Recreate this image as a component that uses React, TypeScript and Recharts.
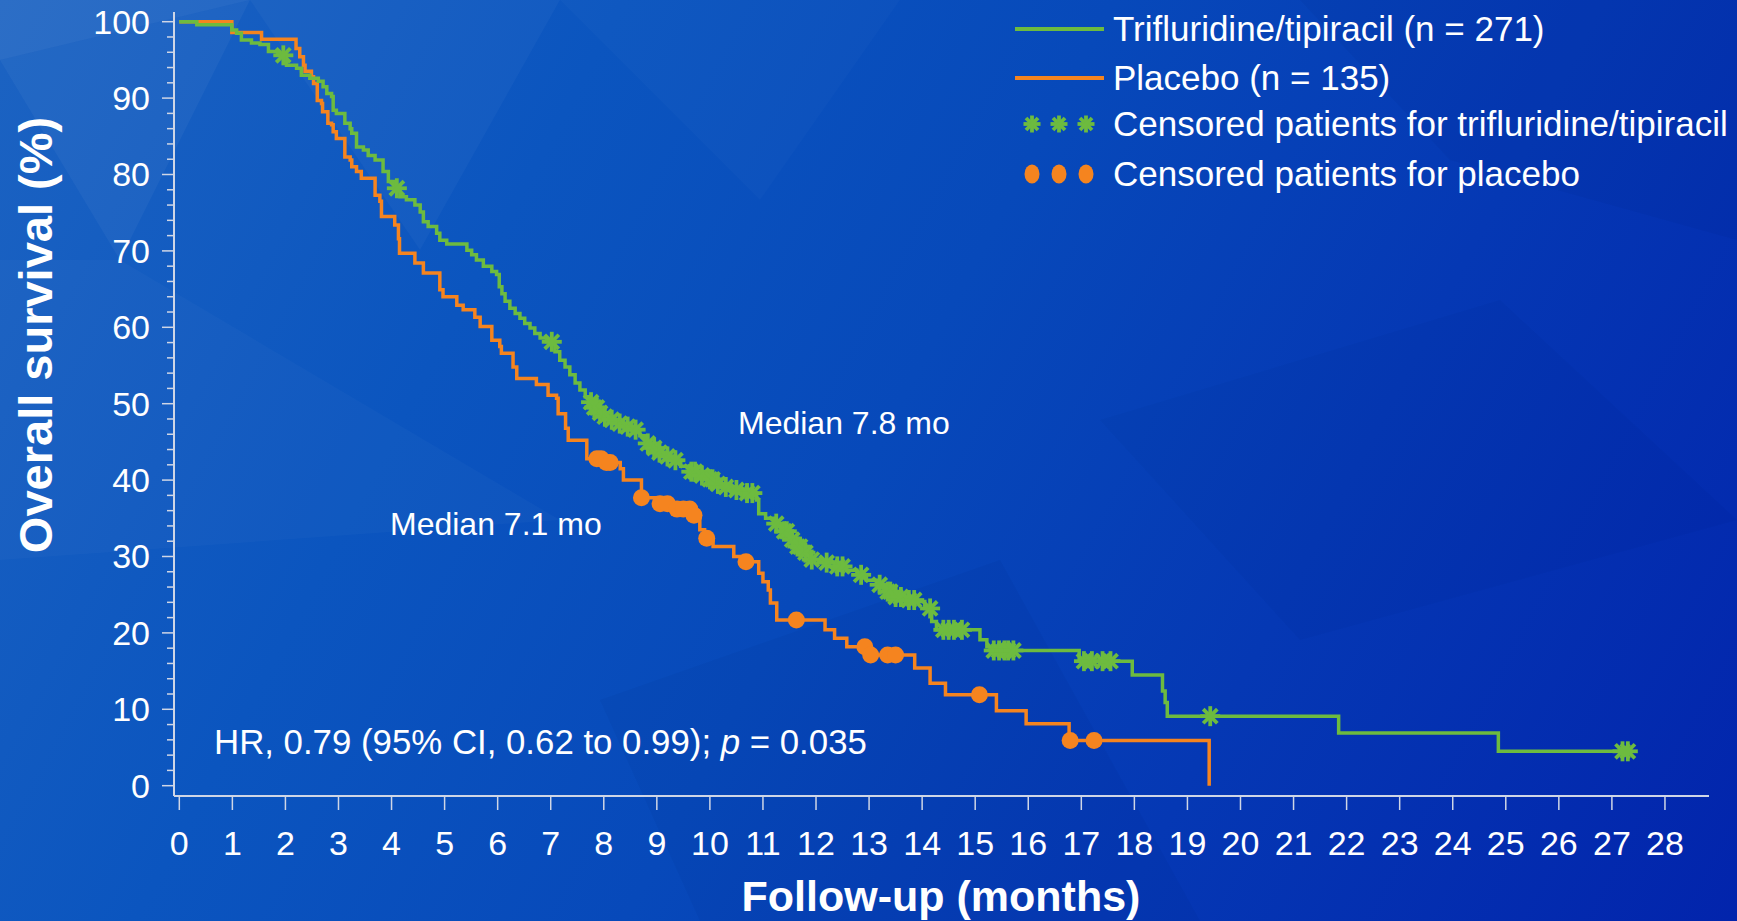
import React from 'react';
import { ComposedChart, Line, Scatter, XAxis, YAxis } from 'recharts';

// ---------- data (time in months, overall survival %) ----------
const tasCurve: [number, number][] = [
  [0, 100], [0.33, 99.6], [0.99, 98.9], [1.08, 98.5], [1.17, 97.6], [1.36, 97.2], [1.52, 97.0], [1.68, 96.1],
  [1.85, 95.6], [2.02, 94.3], [2.21, 93.9], [2.30, 93.0], [2.46, 92.6], [2.62, 92.2], [2.71, 91.5], [2.78, 90.6],
  [2.87, 90.2], [2.90, 88.4], [2.96, 88.0], [3.12, 86.7], [3.22, 86.0], [3.25, 85.4], [3.34, 83.6], [3.47, 83.2],
  [3.56, 82.5], [3.69, 81.9], [3.84, 80.4], [3.94, 79.1], [4.05, 78.2], [4.16, 77.1], [4.28, 76.7], [4.44, 76.0],
  [4.54, 75.1], [4.60, 73.8], [4.69, 73.2], [4.85, 72.3], [4.91, 71.4], [5.04, 70.9], [5.42, 70.1], [5.51, 69.5],
  [5.60, 68.8], [5.73, 68.0], [5.89, 67.3], [5.98, 66.9], [6.03, 65.3], [6.08, 64.4], [6.14, 63.4], [6.23, 62.5],
  [6.33, 61.8], [6.42, 61.2], [6.51, 60.5], [6.61, 59.9], [6.70, 59.2], [6.80, 58.6], [6.92, 58.1], [7.08, 56.8],
  [7.17, 55.7], [7.27, 54.8], [7.36, 53.8], [7.46, 52.7], [7.55, 51.8], [7.65, 50.9], [7.74, 50.2], [7.82, 49.5],
  [7.90, 48.8], [7.98, 48.3], [8.10, 47.9], [8.25, 47.4], [8.40, 47.0], [8.55, 46.6], [8.68, 45.8], [8.78, 44.8],
  [8.88, 44.2], [9.00, 43.6], [9.15, 43.1], [9.31, 42.6], [9.45, 41.8], [9.62, 41.1], [9.80, 40.6], [9.95, 40.1],
  [10.10, 39.5], [10.25, 39.1], [10.45, 38.7], [10.65, 38.3], [10.88, 37.4], [10.92, 35.6], [11.05, 35.0],
  [11.20, 34.3], [11.35, 33.3], [11.50, 32.2], [11.62, 31.3], [11.75, 30.5], [11.89, 29.6], [12.10, 29.2],
  [12.35, 28.7], [12.58, 28.2], [12.77, 27.6], [12.95, 26.9], [13.14, 26.3], [13.33, 25.4], [13.46, 24.7],
  [13.70, 24.3], [13.90, 24.1], [14.05, 23.2], [14.18, 21.5], [14.27, 20.4], [15.09, 19.1], [15.22, 18.2],
  [15.28, 17.7], [16.96, 16.3], [17.96, 14.5], [18.53, 12.4], [18.58, 10.9], [18.62, 9.1], [21.85, 6.9],
  [24.86, 4.5], [27.25, 4.5],
];

const pboCurve: [number, number][] = [
  [0, 100], [0.99, 98.6], [1.55, 97.7], [2.20, 96.5], [2.27, 95.4], [2.34, 94.3], [2.37, 93.5], [2.49, 92.8],
  [2.53, 91.9], [2.60, 89.7], [2.68, 89.3], [2.70, 88.2], [2.80, 86.7], [2.87, 86.5], [2.90, 85.6], [2.96, 84.7],
  [3.12, 82.3], [3.22, 81.9], [3.25, 81.0], [3.34, 80.4], [3.43, 79.5], [3.69, 77.3], [3.78, 76.5], [3.81, 74.5],
  [4.06, 73.4], [4.13, 71.6], [4.15, 69.7], [4.44, 68.4], [4.60, 67.1], [4.91, 64.9], [4.97, 64.0], [5.23, 62.9],
  [5.35, 62.3], [5.57, 61.3], [5.67, 60.1], [5.89, 58.3], [6.04, 57.5], [6.07, 56.6], [6.29, 54.8], [6.36, 53.3],
  [6.73, 52.5], [6.95, 51.1], [7.11, 50.7], [7.14, 48.7], [7.28, 46.8], [7.33, 45.2], [7.68, 42.8], [8.00, 42.3],
  [8.31, 41.5], [8.37, 40.0], [8.71, 37.7], [9.00, 36.9], [9.30, 36.2], [9.65, 35.4], [9.81, 33.5], [9.90, 32.4],
  [10.06, 31.3], [10.45, 30.0], [10.62, 29.3], [10.92, 27.8], [11.00, 26.7], [11.10, 25.6], [11.14, 23.9],
  [11.26, 21.7], [12.17, 20.4], [12.35, 19.3], [12.58, 18.2], [12.97, 17.1], [13.86, 15.4], [14.15, 13.4],
  [14.44, 11.9], [15.40, 9.8], [15.96, 8.1], [16.77, 5.9], [19.41, 0],
];

const tasCensored: [number, number][] = [
  [1.96, 95.6], [4.10, 78.2], [7.02, 58.1], [7.76, 50.2], [7.82, 49.5], [7.87, 49.5], [7.93, 48.8], [8.02, 48.3],
  [8.15, 47.9], [8.30, 47.4], [8.45, 47.0], [8.60, 46.6], [8.83, 44.8], [8.95, 44.2], [9.05, 43.6], [9.20, 43.1],
  [9.35, 42.6], [9.65, 41.1], [9.72, 41.1], [9.85, 40.6], [10.00, 40.1], [10.05, 40.1], [10.15, 39.5],
  [10.30, 39.1], [10.50, 38.7], [10.70, 38.3], [10.80, 38.3], [11.25, 34.3], [11.40, 33.3], [11.45, 33.3],
  [11.55, 32.2], [11.65, 31.3], [11.70, 31.3], [11.80, 30.5], [11.92, 29.6], [12.20, 29.2], [12.40, 28.7],
  [12.50, 28.7], [12.85, 27.6], [13.20, 26.3], [13.35, 25.4], [13.40, 25.4], [13.50, 24.7], [13.60, 24.7],
  [13.75, 24.3], [13.85, 24.3], [14.15, 23.2], [14.40, 20.4], [14.50, 20.4], [14.60, 20.4], [14.75, 20.4],
  [15.35, 17.7], [15.45, 17.7], [15.55, 17.7], [15.62, 17.7], [15.72, 17.7], [17.05, 16.3], [17.20, 16.3],
  [17.40, 16.3], [17.55, 16.3], [19.43, 9.1], [27.20, 4.5], [27.30, 4.5],
];

const pboCensored: [number, number][] = [
  [7.87, 42.8], [7.95, 42.8], [8.05, 42.3], [8.12, 42.3], [8.71, 37.7], [9.06, 36.9], [9.20, 36.9], [9.38, 36.2],
  [9.50, 36.2], [9.62, 36.2], [9.70, 35.4], [9.94, 32.4], [10.68, 29.3], [11.63, 21.7], [12.92, 18.2],
  [13.03, 17.1], [13.35, 17.1], [13.50, 17.1], [15.08, 11.9], [16.79, 5.9], [17.24, 5.9],
];

const xTicks = [0, 1, 2, 3, 4, 5, 6, 7, 8, 9, 10, 11, 12, 13, 14, 15, 16, 17, 18, 19, 20, 21, 22, 23, 24, 25, 26, 27, 28];
const yTicks = [0, 2, 4, 6, 8, 10, 12, 14, 16, 18, 20, 22, 24, 26, 28, 30, 32, 34, 36, 38, 40, 42, 44, 46, 48, 50,
  52, 54, 56, 58, 60, 62, 64, 66, 68, 70, 72, 74, 76, 78, 80, 82, 84, 86, 88, 90, 92, 94, 96, 98, 100];

const legendItems = [
  'Trifluridine/tipiracil (n = 271)',
  'Placebo (n = 135)',
  'Censored patients for trifluridine/tipiracil',
  'Censored patients for placebo',
];

// ---------- styling ----------
const W = 1737;
const H = 921;
const GREEN = '#6dbb3f';
const ORANGE = '#f5841f';
const AXIS = '#cfd6e6';
const FONT = '"Liberation Sans", Arial, Helvetica, sans-serif';

const toPts = (arr: [number, number][]) => arr.map(([t, s]) => ({ t, s }));

function Asterisk({ cx, cy, r = 10, color = GREEN, w = 3.8 }: any) {
  const angles = [0, 45, 90, 135];
  return (
    <g>
      {angles.map((a) => {
        const rad = (a * Math.PI) / 180;
        const dx = Math.cos(rad) * r;
        const dy = Math.sin(rad) * r;
        return <line key={a} x1={cx - dx} y1={cy - dy} x2={cx + dx} y2={cy + dy} stroke={color} strokeWidth={w} />;
      })}
    </g>
  );
}

const StarShape = (props: any) => <Asterisk cx={props.cx} cy={props.cy} />;
const DotShape = (props: any) => <circle cx={props.cx} cy={props.cy} r={8.5} fill={ORANGE} />;

const YTick = (props: any) => {
  const { x, y, payload } = props;
  const v = payload.value;
  const major = v % 10 === 0;
  return (
    <g>
      <line x1={x - (major ? 12 : 7)} x2={x} y1={y} y2={y} stroke={AXIS} strokeWidth={1.5} />
      {major && (
        <text x={x - 24} y={y + 12} textAnchor="end" fill="#ffffff" fontSize={34} fontFamily={FONT}>
          {v}
        </text>
      )}
    </g>
  );
};

const XTick = (props: any) => {
  const { x, y, payload } = props;
  return (
    <g>
      <line x1={x} x2={x} y1={y} y2={y + 14} stroke={AXIS} strokeWidth={1.5} />
      <text x={x} y={y + 59} textAnchor="middle" fill="#ffffff" fontSize={34} fontFamily={FONT}>
        {payload.value}
      </text>
    </g>
  );
};

const facets: string[] = [
  '0,0 250,0 0,60',
  '0,60 250,0 120,260',
  '250,0 560,0 420,250',
  '0,260 120,260 560,520 0,560',
  '560,0 900,0 760,200',
  '1300,0 1737,0 1737,240 1450,160',
  '1100,420 1500,300 1737,520 1300,640',
  '600,700 1000,560 1200,921 700,921',
];
const facetAlpha = [0.07, 0.04, 0.03, 0.025, 0.02, -0.035, -0.025, -0.035];

export default function App() {
  const legendY = [29, 78, 124, 174];
  return (
    <div
      style={{
        position: 'absolute',
        left: 0,
        top: 0,
        width: W,
        height: H,
        overflow: 'hidden',
        background: 'linear-gradient(118deg, #1c63c2 0%, #0b55bf 28%, #0749ba 50%, #0538b4 72%, #0224ac 100%)',
      }}
    >
      <svg width={W} height={H} style={{ position: 'absolute', left: 0, top: 0 }}>
        {facets.map((p, i) => (
          <polygon
            key={i}
            points={p}
            fill={facetAlpha[i] > 0 ? '#ffffff' : '#000033'}
            fillOpacity={Math.abs(facetAlpha[i])}
          />
        ))}
      </svg>
      <div style={{ position: 'absolute', left: 0, top: 0 }}>
        <ComposedChart width={W} height={H} margin={{ top: 12, right: 28, bottom: 0, left: 0 }}>
          <XAxis
            type="number"
            dataKey="t"
            domain={[-0.1, 28.83]}
            ticks={xTicks}
            interval={0}
            allowDataOverflow
            height={125}
            tickLine={false}
            tickSize={0}
            tickMargin={0}
            tick={<XTick />}
            axisLine={{ stroke: AXIS, strokeWidth: 2 }}
          />
          <YAxis
            type="number"
            dataKey="s"
            domain={[-1.35, 101.27]}
            ticks={yTicks}
            interval={0}
            allowDataOverflow
            width={174}
            tickLine={false}
            tickSize={0}
            tickMargin={0}
            tick={<YTick />}
            axisLine={{ stroke: AXIS, strokeWidth: 2 }}
          />
          <Line
            data={toPts(pboCurve)}
            dataKey="s"
            type="stepAfter"
            stroke={ORANGE}
            strokeWidth={3.5}
            dot={false}
            activeDot={false}
            isAnimationActive={false}
          />
          <Line
            data={toPts(tasCurve)}
            dataKey="s"
            type="stepAfter"
            stroke={GREEN}
            strokeWidth={3.5}
            dot={false}
            activeDot={false}
            isAnimationActive={false}
          />
          <Scatter data={toPts(pboCensored)} dataKey="s" shape={DotShape} isAnimationActive={false} />
          <Scatter data={toPts(tasCensored)} dataKey="s" shape={StarShape} isAnimationActive={false} />
        </ComposedChart>
      </div>
      <svg width={W} height={H} style={{ position: 'absolute', left: 0, top: 0, pointerEvents: 'none' }}>
        <g fontFamily={FONT} fill="#ffffff">
          <text
            x={0}
            y={0}
            transform="translate(52 335) rotate(-90)"
            textAnchor="middle"
            fontSize={47}
            fontWeight="bold"
          >
            Overall survival (%)
          </text>
          <text x={941} y={911} textAnchor="middle" fontSize={43} fontWeight="bold">
            Follow-up (months)
          </text>
          <text x={738} y={434} fontSize={32}>
            Median 7.8 mo
          </text>
          <text x={390} y={535} fontSize={32}>
            Median 7.1 mo
          </text>
          <text x={214} y={754} fontSize={34.8}>
            HR, 0.79 (95% CI, 0.62 to 0.99); <tspan fontStyle="italic">p</tspan> = 0.035
          </text>
          {/* legend */}
          <line x1={1015} x2={1104} y1={legendY[0]} y2={legendY[0]} stroke={GREEN} strokeWidth={4} />
          <line x1={1015} x2={1104} y1={legendY[1]} y2={legendY[1]} stroke={ORANGE} strokeWidth={4} />
          {[1032, 1059, 1086].map((cx) => (
            <Asterisk key={'s' + cx} cx={cx} cy={legendY[2]} r={8.5} />
          ))}
          {[1032, 1059, 1086].map((cx) => (
            <ellipse key={'d' + cx} cx={cx} cy={legendY[3]} rx={7.5} ry={9.5} fill={ORANGE} />
          ))}
          {legendItems.map((label, i) => (
            <text key={label} x={1113} y={legendY[i] + 12} fontSize={35}>
              {label}
            </text>
          ))}
        </g>
      </svg>
    </div>
  );
}
